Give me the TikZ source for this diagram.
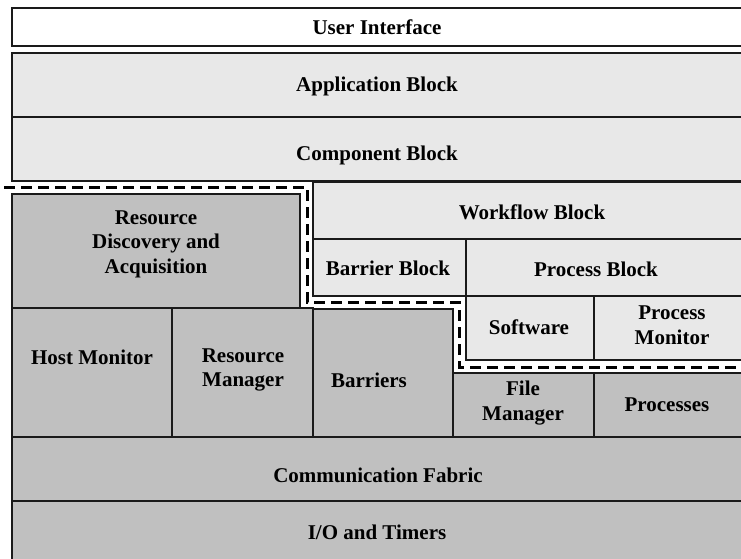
\documentclass[tikz,border=0pt]{standalone}
\usepackage{fontspec}
\setmainfont{Liberation Serif}
\definecolor{lightbox}{HTML}{E8E8E8}
\definecolor{darkbox}{HTML}{C0C0C0}
\definecolor{edge}{HTML}{1A1A1A}
\begin{document}
\begin{tikzpicture}[x=1pt,y=-1pt,
  wbox/.style={fill=white,draw=edge,line width=1.3pt},
  lbox/.style={fill=lightbox,draw=edge,line width=1.3pt},
  dbox/.style={fill=darkbox,draw=edge,line width=1.3pt},
  lbl/.style={font=\fontsize{21}{24.5}\selectfont\bfseries,align=center,inner sep=0pt},
  halo/.style={draw=white,line width=9pt},
  fence/.style={draw=black,line width=3pt,dash pattern=on 11pt off 6pt}]
\useasboundingbox (0,0) rectangle (741,558);
\clip (0,0) rectangle (741,558);
% boxes
\path[wbox] (12,8) rectangle (760,46);
\path[lbox] (12,53) rectangle (760,117);
\path[lbox] (12,117) rectangle (760,181);
\path[dbox] (12,194) rectangle (300,308);
\path[lbox] (313,182) rectangle (760,239);
\path[lbox] (313,239) rectangle (466,296);
\path[lbox] (466,239) rectangle (760,296);
\path[lbox] (466,296) rectangle (594,360);
\path[lbox] (594,296) rectangle (760,360);
\path[dbox] (12,308) rectangle (172,437);
\path[dbox] (172,308) rectangle (313,437);
\path[dbox] (313,309) rectangle (453,437);
\path[dbox] (453,373) rectangle (594,437);
\path[dbox] (594,373) rectangle (760,437);
\path[dbox] (12,437) rectangle (760,501);
\path[dbox] (12,501) rectangle (760,580);
% dashed boundary
\coordinate (d0) at (4,187);
\coordinate (d1) at (307,187);
\coordinate (d2) at (307,302);
\coordinate (d3) at (459,302);
\coordinate (d4) at (459,367);
\coordinate (d5) at (760,367);
\path[halo] (d0) -- (d1) -- (d2) -- (d3) -- (d4) -- (d5);
\path[fence] (d0) -- (d1) -- (d2) -- (d3) -- (d4) -- (d5);
% labels
\node[lbl] (ui) at (377,27) {User Interface};
\node[lbl] (app) at (377,86) {Application Block};
\node[lbl] (comp) at (377,155) {Component Block};
\node[lbl] (rda) at (156,244) {Resource\\Discovery and\\Acquisition};
\node[lbl] (wf) at (532,212) {Workflow Block};
\node[lbl] (bb) at (388,268) {Barrier Block};
\node[lbl] (pb) at (596,269) {Process Block};
\node[lbl] (sw) at (529,327) {Software};
\node[lbl] (pm) at (672,325) {Process\\Monitor};
\node[lbl] (hm) at (92,357) {Host Monitor};
\node[lbl] (rm) at (243,370) {Resource\\Manager};
\node[lbl] (bar) at (369,380) {Barriers};
\node[lbl] (fm) at (523,403) {File\\Manager};
\node[lbl] (proc) at (667,405) {Processes};
\node[lbl] (cf) at (378,475) {Communication Fabric};
\node[lbl] (io) at (377,532) {I/O and Timers};
\end{tikzpicture}
\end{document}
